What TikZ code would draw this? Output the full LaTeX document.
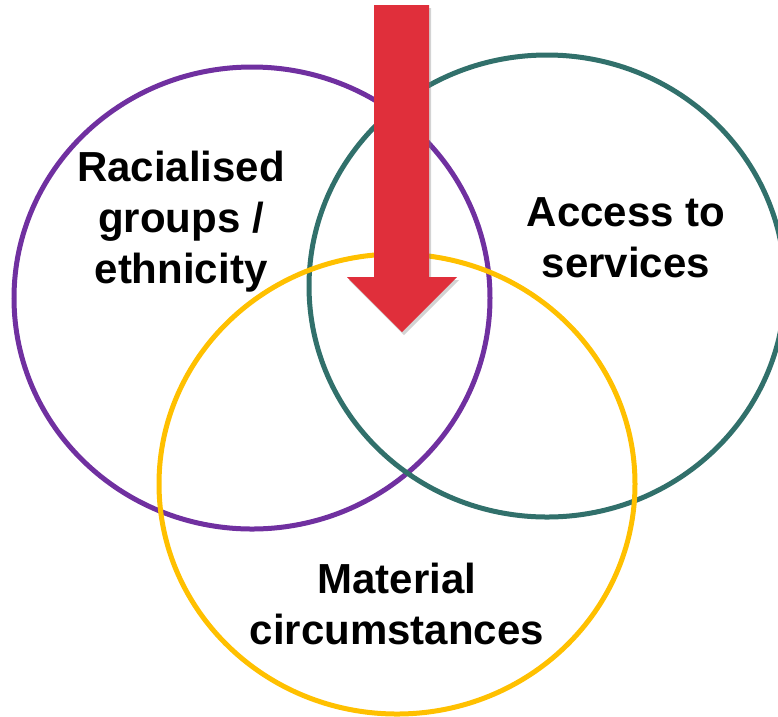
\documentclass[tikz,border=0pt]{standalone}
\usepackage{fontspec}
\setmainfont{Liberation Sans}
\definecolor{racepurple}{RGB}{112, 48, 160}
\definecolor{accessteal}{RGB}{49, 112, 107}
\definecolor{matyellow}{RGB}{255, 192, 0}
\definecolor{arrowred}{RGB}{224, 47, 59}
\usetikzlibrary{shadows}

\begin{document}
\begin{tikzpicture}[x=1pt, y=-1pt,
  ring/.style={line width=5pt},
  label/.style={font=\fontsize{42}{51}\selectfont\bfseries, align=center, inner sep=0pt},
  bigarrow/.style={fill=arrowred, draw=none, drop shadow={opacity=0.35, shadow xshift=2pt, shadow yshift=-3pt}}
]
  \useasboundingbox (0, 0) rectangle (778, 716);

  % Circles
  \draw[ring, racepurple] (252, 298) ellipse [x radius=238, y radius=231];
  \draw[ring, accessteal] (547, 286) ellipse [x radius=238, y radius=231];
  \draw[ring, matyellow] (397, 484) ellipse [x radius=238, y radius=230];

  % Labels
  \node[label] (race) at (181, 222) {Racialised\\groups /\\ethnicity};
  \node[label] (access) at (626, 238) {Access to\\services};
  \node[label] (material) at (397, 604) {Material\\circumstances};

  % Arrow
  \path[bigarrow] (374, 5) -- (429, 5) -- (429, 277) -- (457, 277)
    -- (402, 332) -- (347, 277) -- (374, 277) -- cycle;
\end{tikzpicture}
\end{document}
